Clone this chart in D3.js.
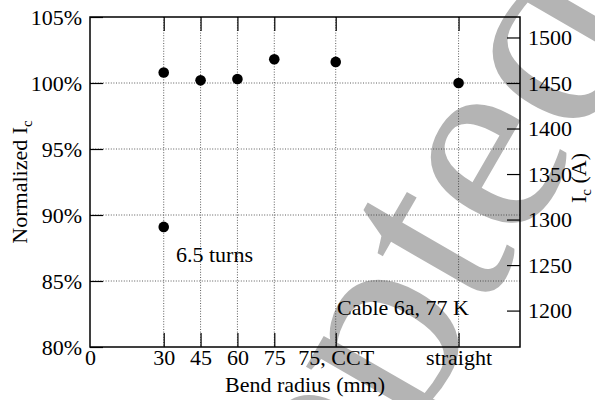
<!DOCTYPE html>
<html>
<head>
<meta charset="utf-8">
<script src="https://cdn.jsdelivr.net/npm/d3@7"></script>
<style>
  body { margin: 0; background: #fff; }
  svg { display: block; font-family: "Liberation Serif", "Times New Roman", serif; }
  svg text { font-family: "Liberation Serif", "Times New Roman", serif !important; }
  .tick line { stroke: #000; stroke-width: 1.2; }
</style>
</head>
<body>
<div id="chart"></div>
<script>
// bend radius positions on the x axis (75 CCT and straight sit at 100 and 150)
const bendX = [30, 45, 60, 75, 100, 150];
const bendLabels = ["30", "45", "60", "75", "75, CCT", "straight"];
const normIc = [100.8, 100.2, 100.3, 101.8, 101.6, 100.0];
// the 6.5 turns sample
const turnsX = [30];
const turnsIc = [89.1];

const pctTicks = [80, 85, 90, 95, 100, 105];
const ampTicks = [1200, 1250, 1300, 1350, 1400, 1450, 1500];
const icRef = 1450; // 100% = 1450 A

const width = 595;
const height = 400;
const margin = {top: 17, right: 75, bottom: 53, left: 90};
const serif = "'Liberation Serif', 'Times New Roman', serif";

const svg = d3.select("#chart").append("svg")
    .attr("width", width)
    .attr("height", height);

const x = d3.scaleLinear()
    .domain([0, 175])
    .range([margin.left, width - margin.right]);

const y = d3.scaleLinear()
    .domain([80, 105])
    .range([height - margin.bottom, margin.top]);

const yR = d3.scaleLinear()
    .domain([80 * icRef / 100, 105 * icRef / 100])
    .range([height - margin.bottom, margin.top]);

drawWatermark();
drawGrid();
drawAxes();
drawPoints();
drawLabels();

function drawWatermark() {
    svg.append("text")
        .attr("transform", "translate(649,25) rotate(-60)")
        .attr("text-anchor", "end")
        .style("font-size", "275px")
        .style("fill", "#b4b4b4")
        .text("Accepted");
}

function drawGrid() {
    const grid = svg.append("g").attr("class", "grid")
        .style("stroke", "#333")
        .style("stroke-width", 0.8)
        .style("stroke-dasharray", "1,1.6");

    grid.selectAll(".h")
        .data(pctTicks.slice(1, -1))
        .enter()
        .append("line")
        .attr("x1", x(0))
        .attr("x2", x(175))
        .attr("y1", (d) => y(d))
        .attr("y2", (d) => y(d));

    grid.selectAll(".v")
        .data(bendX)
        .enter()
        .append("line")
        .attr("x1", (d) => x(d))
        .attr("x2", (d) => x(d))
        .attr("y1", y(105))
        .attr("y2", y(80));
}

function styleAxis(g) {
    g.attr("font-family", serif).attr("font-size", 22);
    g.select(".domain").remove();
    g.selectAll(".tick text")
        .attr("fill", "#000")
        .style("font-family", serif)
        .style("font-size", "22px");
}

function drawAxes() {
    const labelOf = (d) => d === 0 ? "0" : bendLabels[bendX.indexOf(d)];

    svg.append("g")
        .attr("transform", `translate(0,${y(80)})`)
        .call(d3.axisBottom(x).tickValues([0].concat(bendX)).tickFormat(labelOf).tickSize(-14).tickPadding(2))
        .call(styleAxis)
        .call((g) => g.selectAll(".tick").filter((d) => d === 0).select("line").remove());

    svg.append("g")
        .attr("transform", `translate(0,${y(105)})`)
        .call(d3.axisTop(x).tickValues(bendX).tickFormat("").tickSize(-14))
        .call(styleAxis);

    svg.append("g")
        .attr("transform", `translate(${x(0)},0)`)
        .call(d3.axisLeft(y).tickValues(pctTicks).tickFormat((d) => d + "%").tickSize(-13).tickPadding(8))
        .call(styleAxis);

    svg.append("g")
        .attr("transform", `translate(${x(175)},0)`)
        .call(d3.axisRight(yR).tickValues(ampTicks).tickFormat(d3.format("d")).tickSize(-13).tickPadding(8))
        .call(styleAxis);

    svg.append("rect")
        .attr("x", x(0))
        .attr("y", y(105))
        .attr("width", x(175) - x(0))
        .attr("height", y(80) - y(105))
        .style("fill", "none")
        .style("stroke", "#000")
        .style("stroke-width", 1.5);
}

function drawPoints() {
    svg.append("g").selectAll("circle")
        .data(bendX.map((d, i) => [d, normIc[i]]).concat(turnsX.map((d, i) => [d, turnsIc[i]])))
        .enter()
        .append("circle")
        .attr("cx", (d) => x(d[0]))
        .attr("cy", (d) => y(d[1]))
        .attr("r", 5.3)
        .style("fill", "#000");
}

function drawLabels() {
    const t = svg.append("g").style("font-size", "22px").style("fill", "#000");

    t.append("text")
        .attr("x", 176)
        .attr("y", 262)
        .text("6.5 turns");

    t.append("text")
        .attr("x", 337)
        .attr("y", 315)
        .text("Cable 6a, 77 K");

    t.append("text")
        .attr("x", (x(0) + x(175)) / 2)
        .attr("y", 392)
        .attr("text-anchor", "middle")
        .text("Bend radius (mm)");

    const left = t.append("text")
        .attr("transform", `translate(27,${(y(80) + y(105)) / 2}) rotate(-90)`)
        .attr("text-anchor", "middle");
    left.append("tspan").text("Normalized I");
    left.append("tspan").attr("dy", 5).style("font-size", "15px").text("c");

    const right = t.append("text")
        .attr("transform", `translate(586,${(y(80) + y(105)) / 2 - 4}) rotate(-90)`)
        .attr("text-anchor", "middle");
    right.append("tspan").text("I");
    right.append("tspan").attr("dy", 5).style("font-size", "15px").text("c");
    right.append("tspan").attr("dy", -5).text(" (A)");
}
</script>
</body>
</html>
